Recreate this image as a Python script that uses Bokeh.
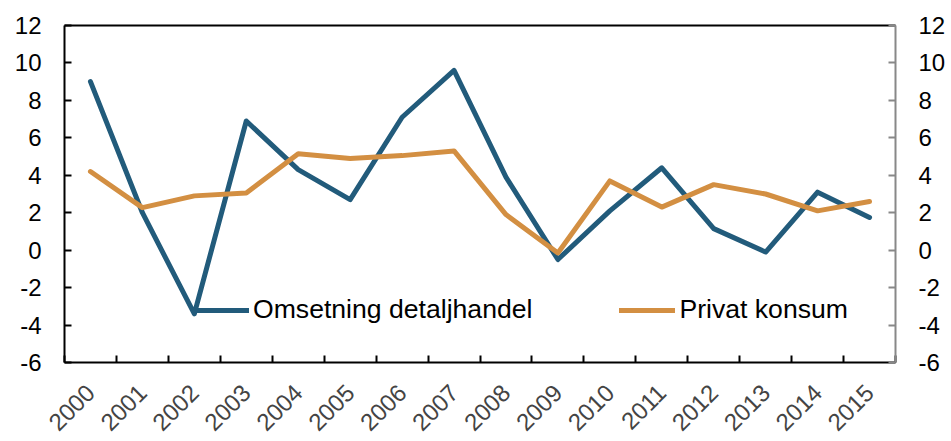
from bokeh.plotting import figure
from bokeh.models import (LinearAxis, FixedTicker, Range1d, Legend, LegendItem)
from bokeh.embed import file_html
from bokeh.resources import INLINE

years = ["2000", "2001", "2002", "2003", "2004", "2005", "2006", "2007",
         "2008", "2009", "2010", "2011", "2012", "2013", "2014", "2015"]
omsetning = [9.0, 2.0, -3.4, 6.9, 4.3, 2.7, 7.1, 9.6,
             3.9, -0.5, 2.1, 4.4, 1.15, -0.1, 3.1, 1.75]
privat = [4.2, 2.27, 2.9, 3.05, 5.15, 4.9, 5.05, 5.3,
          1.9, -0.15, 3.7, 2.3, 3.5, 3.0, 2.1, 2.6]
y_ticks = [-6, -4, -2, 0, 2, 4, 6, 8, 10, 12]

FONT = "Liberation Sans"
BLUE = "#225B7B"
ORANGE = "#D38F42"

n = len(years)
xs = [i + 0.5 for i in range(n)]

p = figure(width=951, height=441, output_backend="svg", toolbar_location=None,
           x_range=Range1d(0, n), y_range=Range1d(y_ticks[0], y_ticks[-1]),
           x_axis_type=None, y_axis_type=None,
           min_border_left=64, min_border_right=56, min_border_top=25,
           min_border_bottom=77)
p.outline_line_color = None
p.xgrid.visible = False
p.ygrid.visible = False

r1 = p.line(xs, omsetning, line_color=BLUE, line_width=5, line_join="round", line_cap="round")
r2 = p.line(xs, privat, line_color=ORANGE, line_width=5, line_join="round", line_cap="round")

def style_y(ax, color):
    ax.ticker = FixedTicker(ticks=y_ticks)
    ax.major_label_overrides = {v: str(v) for v in y_ticks}
    ax.major_tick_in = 7
    ax.major_tick_out = 0
    ax.minor_tick_in = 0
    ax.minor_tick_out = 0
    ax.axis_line_color = color
    ax.axis_line_width = 2
    ax.major_tick_line_color = color
    ax.major_tick_line_width = 2
    ax.major_label_text_font = FONT
    ax.major_label_text_font_size = "24px"
    ax.major_label_text_color = "black"
    ax.major_label_standoff = 23

left = LinearAxis()
style_y(left, "black")
p.add_layout(left, "left")
right = LinearAxis()
style_y(right, "#888888")
p.add_layout(right, "right")

bottom = LinearAxis()
bottom.ticker = FixedTicker(ticks=xs, minor_ticks=list(range(n + 1)))
bottom.major_label_overrides = {x: y for x, y in zip(xs, years)}
bottom.major_tick_in = 0
bottom.major_tick_out = 0
bottom.minor_tick_in = 7
bottom.minor_tick_out = 0
bottom.minor_tick_line_color = "black"
bottom.minor_tick_line_width = 2
bottom.axis_line_color = "black"
bottom.axis_line_width = 2
bottom.major_label_orientation = 0.785398
bottom.major_label_text_font = FONT
bottom.major_label_text_font_size = "24px"
bottom.major_label_standoff = 26
p.add_layout(bottom, "below")

top = LinearAxis()
top.ticker = FixedTicker(ticks=[])
top.major_tick_in = 0
top.major_tick_out = 0
top.minor_tick_in = 0
top.minor_tick_out = 0
top.major_label_text_font_size = "0px"
top.axis_line_color = "black"
top.axis_line_width = 2
p.add_layout(top, "above")

legend = Legend(items=[LegendItem(label="Omsetning detaljhandel", renderers=[r1]),
                       LegendItem(label="Privat konsum", renderers=[r2])],
                orientation="horizontal", location=(129, 37),
                spacing=87, glyph_width=56, glyph_height=20, label_standoff=4,
                label_text_font=FONT, label_text_font_size="26.6px",
                label_text_color="black",
                border_line_color=None, background_fill_alpha=0,
                padding=0, margin=0)
p.add_layout(legend)

open("out.html", "w").write(file_html(p, INLINE))
